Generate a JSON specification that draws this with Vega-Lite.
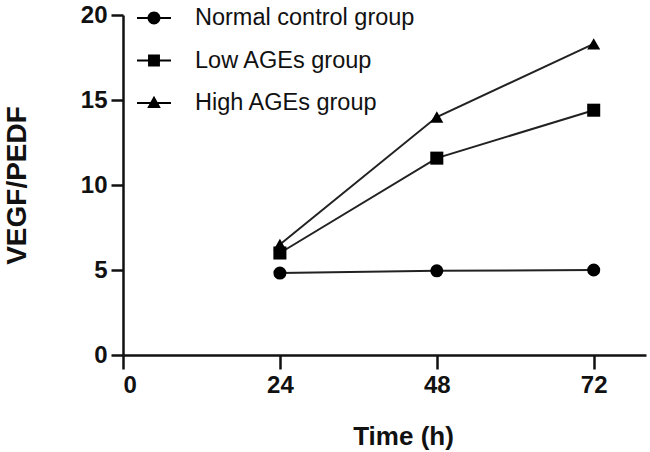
{
  "$schema": "https://vega.github.io/schema/vega-lite/v6.json",
  "width": 523,
  "height": 340,
  "autosize": {"type": "none"},
  "padding": {"left": 123, "top": 15, "right": 4, "bottom": 97},
  "background": "white",
  "config": {
    "view": {"stroke": null},
    "font": "Liberation Sans",
    "axis": {
      "domainColor": "#111",
      "domainWidth": 2.5,
      "tickColor": "#111",
      "tickWidth": 2.5,
      "grid": false,
      "labelFont": "Liberation Sans",
      "labelFontWeight": "bold",
      "labelFontSize": 24,
      "labelColor": "#111",
      "titleFont": "Liberation Sans",
      "titleFontWeight": "bold",
      "titleColor": "#111"
    }
  },
  "data": {
    "values": [
      {"time": 24, "value": 4.82, "group": "Normal control group"},
      {"time": 48, "value": 4.95, "group": "Normal control group"},
      {"time": 72, "value": 5.0, "group": "Normal control group"},
      {"time": 24, "value": 6.0, "group": "Low AGEs group"},
      {"time": 48, "value": 11.58, "group": "Low AGEs group"},
      {"time": 72, "value": 14.4, "group": "Low AGEs group"},
      {"time": 24, "value": 6.5, "group": "High AGEs group"},
      {"time": 48, "value": 14.0, "group": "High AGEs group"},
      {"time": 72, "value": 18.3, "group": "High AGEs group"}
    ]
  },
  "encoding": {
    "x": {
      "field": "time",
      "type": "quantitative",
      "scale": {"domain": [0, 80], "nice": false, "zero": true},
      "axis": {
        "values": [0, 24, 48, 72],
        "title": "Time (h)",
        "titleFontSize": 26,
        "tickSize": 14,
        "labelPadding": 4,
        "titleX": 280,
        "titleY": 89,
        "titleAlign": "center",
        "titleBaseline": "alphabetic"
      }
    },
    "y": {
      "field": "value",
      "type": "quantitative",
      "scale": {"domain": [0, 20], "nice": false},
      "axis": {
        "values": [0, 5, 10, 15, 20],
        "title": "VEGF/PEDF",
        "titleFontSize": 28,
        "tickSize": 12,
        "labelPadding": 4,
        "titleX": -98,
        "titleY": 170,
        "titleAngle": 270,
        "titleAlign": "center",
        "titleBaseline": "alphabetic"
      }
    }
  },
  "layer": [
    {
      "mark": {"type": "line", "color": "#222", "strokeWidth": 2},
      "encoding": {"detail": {"field": "group"}}
    },
    {
      "mark": {"type": "point", "filled": true, "size": 170, "opacity": 1, "color": "#000"},
      "encoding": {
        "shape": {
          "field": "group",
          "type": "nominal",
          "scale": {
            "domain": ["Normal control group", "Low AGEs group", "High AGEs group"],
            "range": ["circle", "square", "triangle-up"]
          },
          "legend": null
        }
      }
    },
    {
      "transform": [{"filter": "false"}],
      "mark": {"type": "point", "filled": true, "opacity": 1, "color": "#000"},
      "encoding": {
        "shape": {
          "field": "group",
          "type": "nominal",
          "scale": {
            "domain": ["Normal control group", "Low AGEs group", "High AGEs group"],
            "range": [
              "M-1,-0.06H-0.36V0.06H-1ZM0.36,-0.06H1V0.06H0.36ZM0.38,0A0.38,0.38,0,1,1,-0.38,0A0.38,0.38,0,1,1,0.38,0Z",
              "M-1,-0.06H-0.35V0.06H-1ZM0.35,-0.06H1V0.06H0.35ZM-0.35,-0.35H0.35V0.35H-0.35Z",
              "M-1,-0.06H-0.2V0.06H-1ZM0.2,-0.06H1V0.06H0.2ZM0,-0.42L0.4,0.3H-0.4Z"
            ]
          },
          "legend": {
            "title": null,
            "orient": "none",
            "legendX": 13,
            "legendY": -15,
            "padding": 0,
            "symbolSize": 1156,
            "symbolFillColor": "#000",
            "symbolOpacity": 1,
            "labelFont": "Liberation Sans",
            "labelFontSize": 23.5,
            "labelColor": "#111",
            "labelOffset": 23,
            "labelLimit": 0,
            "rowPadding": 12.5
          }
        }
      }
    }
  ],
  "resolve": {"scale": {"shape": "independent"}, "legend": {"shape": "independent"}}
}
